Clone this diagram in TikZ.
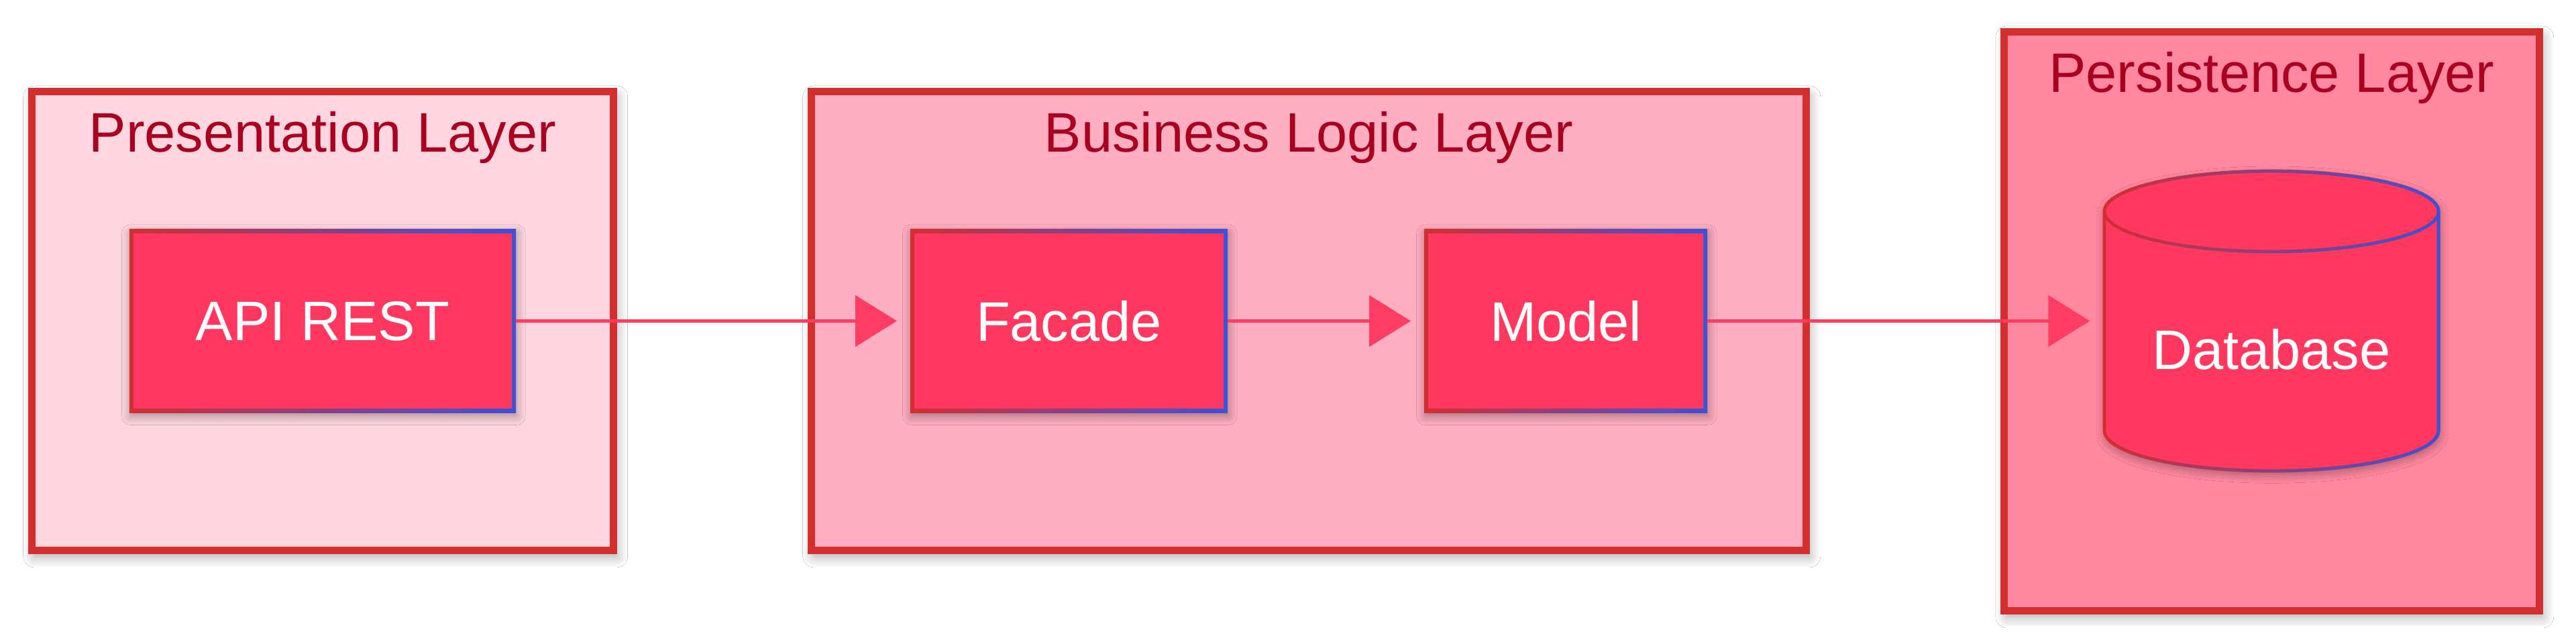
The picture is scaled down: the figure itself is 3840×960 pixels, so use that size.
\documentclass[tikz,border=0pt]{standalone}
\usepackage{fontspec}
\setmainfont{Liberation Sans}
\usetikzlibrary{arrows.meta,shadows.blur,fadings}
\definecolor{laybord}{HTML}{D32F2F}
\definecolor{layA}{HTML}{FFD6DF}
\definecolor{layB}{HTML}{FFAFC1}
\definecolor{layC}{HTML}{FF88A0}
\definecolor{titlecol}{HTML}{A8001E}
\definecolor{nodefill}{HTML}{FF3860}
\definecolor{gradred}{HTML}{D32F2F}
\definecolor{gradblue}{HTML}{3F51D6}
\definecolor{edgecol}{HTML}{FF3D62}
\tikzfading[name=fadeleft, left color=transparent!100, right color=transparent!0]
\tikzset{
  layerbox/.style={rectangle, draw=laybord, line width=7.8pt, inner sep=0pt,
    blur shadow={shadow xshift=3pt, shadow yshift=-6pt, shadow blur radius=12pt, shadow blur steps=14, shadow opacity=35}},
  laytitle/.style={text=titlecol, font=\fontsize{59pt}{70pt}\selectfont, anchor=base, inner sep=0pt},
  comp/.style={rectangle, inner sep=0pt, minimum height=6.825cm, text=white,
    font=\fontsize{59pt}{70pt}\selectfont, left color=gradred, right color=gradblue,
    path picture={\fill[nodefill] ([shift={(0.15cm,-0.15cm)}]path picture bounding box.north west)
      rectangle ([shift={(-0.15cm,0.15cm)}]path picture bounding box.south east);},
    blur shadow={shadow xshift=1pt, shadow yshift=-4pt, shadow blur radius=9pt, shadow blur steps=12, shadow opacity=35}},
  dbtext/.style={text=white, font=\fontsize{59pt}{70pt}\selectfont, inner sep=0pt},
  edge/.style={draw=edgecol, line width=3.5pt, -{Triangle[length=44pt,width=54pt]}, shorten >=14pt}
}
\begin{document}
\begin{tikzpicture}[x=0.025cm,y=-0.025cm]
\useasboundingbox (0,0) rectangle (3840,960);
\fill[white] (0,0) rectangle (3840,960);

% layers
\node[layerbox, fill=layA, minimum width=21.675cm, minimum height=17.1cm] (pres) at (481,478.5) {};
\node[layerbox, fill=layB, minimum width=37.075cm, minimum height=17.1cm] (bus) at (1951,478.5) {};
\node[layerbox, fill=layC, minimum width=19.95cm, minimum height=21.575cm] (pers) at (3386.5,479) {};

\node[laytitle] (prest) at (481,226) {Presentation Layer};
\node[laytitle] (bust) at (1951,226) {Business Logic Layer};
\node[laytitle] (perst) at (3386.5,137) {Persistence Layer};

% components
\node[comp, minimum width=14.4cm] (api) at (481,478.5) {API REST};
\node[comp, minimum width=11.825cm] (facade) at (1593.5,478.5) {Facade};
\node[comp, minimum width=10.55cm] (model) at (2334,478.5) {Model};

% database cylinder
\fill[nodefill, blur shadow={shadow xshift=1pt, shadow yshift=-4pt, shadow blur radius=9pt, shadow blur steps=12, shadow opacity=35}]
  (3137,315) -- (3137,642) arc[start angle=180,end angle=0,x radius=249,y radius=60]
  -- (3635,315) arc[start angle=0,end angle=-180,x radius=249,y radius=60] -- cycle;
\draw[gradred, line width=3.4pt]
  (3137,315) -- (3137,642) arc[start angle=180,end angle=0,x radius=249,y radius=60]
  -- (3635,315) arc[start angle=0,end angle=-180,x radius=249,y radius=60] -- cycle
  (3137,315) arc[start angle=180,end angle=0,x radius=249,y radius=60];
\draw[gradblue, line width=3.4pt, path fading=fadeleft]
  (3137,315) -- (3137,642) arc[start angle=180,end angle=0,x radius=249,y radius=60]
  -- (3635,315) arc[start angle=0,end angle=-180,x radius=249,y radius=60] -- cycle
  (3137,315) arc[start angle=180,end angle=0,x radius=249,y radius=60];
\node[dbtext] (db) at (3386,521) {Database};
\coordinate (dbw) at (3135,478.5);

% connectors
\draw[edge] (api.east) -- (facade.west);
\draw[edge] (facade.east) -- (model.west);
\draw[edge] (model.east) -- (dbw);
\end{tikzpicture}
\end{document}
